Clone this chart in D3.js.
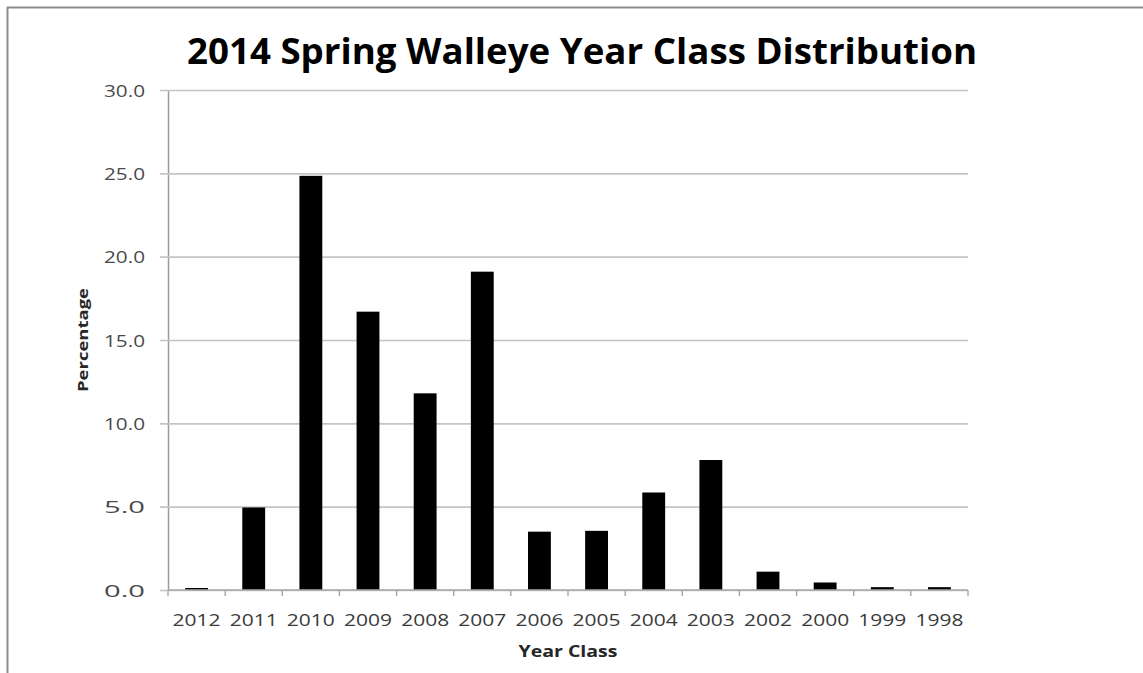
<!DOCTYPE html>
<html>
<head>
<meta charset="utf-8">
<script src="https://cdn.jsdelivr.net/npm/d3@7"></script>
<style>
  html, body { margin: 0; padding: 0; background: #fff; }
  svg { display: block; }
  text { font-family: "Open Sans", "Noto Sans", sans-serif; font-variant-ligatures: none; }
</style>
</head>
<body>
<svg id="chart" width="1143" height="673"></svg>
<script>
// Walleye year-class percentages, spring 2014 sample
const yearClasses = ["2012", "2011", "2010", "2009", "2008", "2007", "2006",
                     "2005", "2004", "2003", "2002", "2000", "1999", "1998"];
const percentages = [0.12, 4.95, 24.85, 16.7, 11.8, 19.1, 3.5,
                     3.55, 5.85, 7.8, 1.1, 0.45, 0.17, 0.17];
const yTicks = [0, 5, 10, 15, 20, 25, 30];

const titleText = "2014 Spring Walleye Year Class Distribution";
const xTitle = "Year Class";
const yTitle = "Percentage";

const svg = d3.select("#chart");
const W = 1143, H = 673;
const plot = { left: 168, right: 968, top: 90, bottom: 590 };

// outer frame (top and left edges visible)
svg.append("line").attr("x1", 7).attr("x2", W).attr("y1", 7.5).attr("y2", 7.5)
  .attr("stroke", "#8c8c8c").attr("stroke-width", 2);
svg.append("line").attr("x1", 7.5).attr("x2", 7.5).attr("y1", 7).attr("y2", H)
  .attr("stroke", "#8c8c8c").attr("stroke-width", 2);

const x = d3.scaleBand()
  .domain(yearClasses)
  .range([plot.left, plot.right])
  .paddingInner(0.6)
  .paddingOuter(0.3);

const y = d3.scaleLinear().domain([0, 30]).range([plot.bottom, plot.top]);

// horizontal gridlines with outward tick stubs
const yAxis = d3.axisLeft(y)
  .tickValues(yTicks)
  .tickSize(-(plot.right - plot.left))
  .tickSizeOuter(0)
  .tickFormat(d3.format(".1f"));

const gy = svg.append("g").attr("transform", `translate(${plot.left},0)`).call(yAxis);
gy.select(".domain").attr("stroke", "#9a9a9a").attr("stroke-width", 1.5);
gy.selectAll(".tick line")
  .attr("x1", -8)
  .attr("stroke", "#c4c4c4").attr("stroke-width", 1.6);
gy.selectAll(".tick text")
  .attr("x", -23)
  .attr("dy", "0.36em")
  .attr("fill", "#4a4a4a")
  .style("font-size", "17px")
  .attr("textLength", 41)
  .attr("lengthAdjust", "spacingAndGlyphs");

// bars
svg.append("g").selectAll("rect")
  .data(yearClasses)
  .join("rect")
  .attr("x", (d) => x(d))
  .attr("width", x.bandwidth())
  .attr("y", (d, i) => y(percentages[i]))
  .attr("height", (d, i) => y(0) - y(percentages[i]))
  .attr("fill", "#000");

// category axis with tick marks at category boundaries
const bounds = d3.range(yearClasses.length + 1).map((i) => plot.left + i * (plot.right - plot.left) / yearClasses.length);
const gx = svg.append("g");
gx.append("line")
  .attr("x1", plot.left).attr("x2", plot.right)
  .attr("y1", plot.bottom).attr("y2", plot.bottom)
  .attr("stroke", "#a8a8a8").attr("stroke-width", 1.6);
gx.selectAll("line.tk")
  .data(bounds)
  .join("line")
  .attr("class", "tk")
  .attr("x1", (d) => d).attr("x2", (d) => d)
  .attr("y1", plot.bottom).attr("y2", plot.bottom + 6)
  .attr("stroke", "#a8a8a8").attr("stroke-width", 1.4);
gx.selectAll("text")
  .data(yearClasses)
  .join("text")
  .attr("x", (d) => x(d) + x.bandwidth() / 2)
  .attr("y", 626)
  .attr("text-anchor", "middle")
  .attr("fill", "#3a3a3a")
  .style("font-size", "17px")
  .attr("textLength", 48)
  .attr("lengthAdjust", "spacingAndGlyphs")
  .text((d) => d);

// title
svg.append("text")
  .attr("x", 582).attr("y", 64)
  .attr("text-anchor", "middle")
  .style("font-size", "35px").style("font-weight", "700")
  .attr("fill", "#000")
  .attr("textLength", 790)
  .attr("lengthAdjust", "spacingAndGlyphs")
  .text(titleText);

// axis titles
svg.append("text")
  .attr("x", 568).attr("y", 657)
  .attr("text-anchor", "middle")
  .style("font-size", "16px").style("font-weight", "700")
  .attr("fill", "#262626")
  .attr("textLength", 99)
  .attr("lengthAdjust", "spacingAndGlyphs")
  .text(xTitle);

svg.append("text")
  .attr("transform", "translate(88,340) rotate(-90)")
  .attr("text-anchor", "middle")
  .style("font-size", "15px").style("font-weight", "700")
  .attr("fill", "#262626")
  .attr("textLength", 104)
  .attr("lengthAdjust", "spacingAndGlyphs")
  .text(yTitle);
</script>
</body>
</html>
